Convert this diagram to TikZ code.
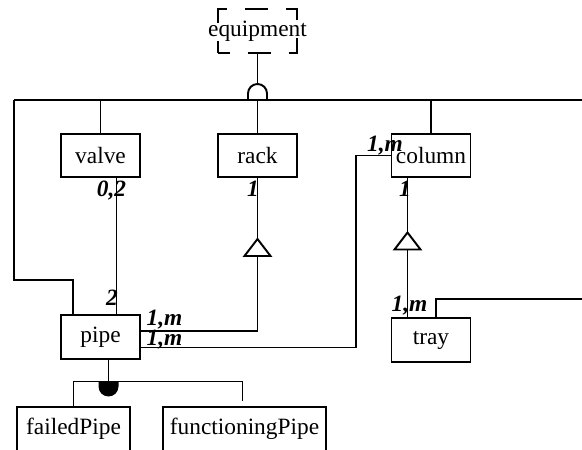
\documentclass[tikz,border=0pt]{standalone}
\usepackage{fontspec}
\setmainfont{Liberation Serif}

\begin{document}
\begin{tikzpicture}[line width=1.1pt,
  classbox/.style={draw, rectangle, inner sep=0pt, minimum width=1.58cm,
    minimum height=0.86cm, font=\fontsize{13.3}{15}\selectfont},
  mult/.style={anchor=base, inner sep=0pt,
    font=\fontsize{13.3}{15}\selectfont\bfseries\itshape}]

% Frame
\clip (0,0) rectangle (11.64,8.98);

% =========== Classes ===========
\node[draw, rectangle, inner sep=0pt, minimum width=1.58cm, minimum height=0.88cm,
      dash pattern=on 0.46cm off 0.36cm, dash phase=0.23cm]
  (equipment) at (5.15,8.36) {};
\node[font=\fontsize{13.3}{15}\selectfont] (equipmentText) at (equipment) {equipment};

\node[classbox] (valve) at (2.01,5.87) {valve};
\node[classbox] (rack) at (5.15,5.87) {rack};
\node[classbox] (column) at (8.62,5.87) {column};
\node[classbox, minimum height=0.88cm] (pipe) at (2.01,2.24) {pipe};
\node[classbox, minimum height=0.88cm] (tray) at (8.62,2.18) {tray};
\node[classbox, minimum width=2.26cm, minimum height=0.88cm] (failedPipe) at (1.47,0.40) {failedPipe};
\node[classbox, minimum width=3.26cm, minimum height=0.88cm] (functioningPipe) at (4.89,0.40) {functioningPipe};

% =========== Generalisation of equipment ===========
\coordinate (busL) at (0.28,6.98);
\coordinate (busR) at (11.64,6.98);
\coordinate (genTop) at (5.15,7.30);
\draw (busL) -- (busR);
\draw (equipment.south) -- (genTop);
\draw ([xshift=-0.19cm, yshift=-0.32cm]genTop) -- ++(0,0.13) arc (180:0:0.19) -- ++(0,-0.13);

\foreach \c in {valve, rack, column}
  \draw (\c.north) -- (\c.north |- busL);
\draw (busL) -- ++(0,-3.60) -| ([xshift=0.26cm]pipe.north west);

% =========== valve -- pipe ===========
\draw ([xshift=0.32cm]valve.south) -- ([xshift=0.32cm]pipe.north);
\node[mult] (valveMult) at (2.23,5.04) {0,2};
\node[mult] (pipeValveMult) at (2.24,2.86) {2};

% =========== rack -- pipe ===========
\coordinate (rackTip) at (5.15,4.20);
\draw (rack.south) -- (rackTip);
\draw (rackTip) -- ++(-0.26,-0.34) -- ++(0.52,0) -- cycle;
\draw ([yshift=-0.34cm]rackTip) |- ([yshift=0.12cm]pipe.east);
\node[mult] (rackMult) at (5.06,5.04) {1};
\node[mult] (pipeRackMult) at (3.29,2.46) {1,m};

% =========== column -- pipe ===========
\draw (column.west) -- ++(-0.70,0) |- ([yshift=-0.21cm]pipe.east);
\node[mult] (columnPipeMult) at (7.70,5.94) {1,m};
\node[mult] (pipeColumnMult) at (3.29,2.08) {1,m};

% =========== column -- tray ===========
\coordinate (colTip) at (8.15,4.33);
\coordinate (trayEnd) at (11.64,3.00);
\draw ([xshift=-0.47cm]column.south) -- (colTip);
\draw (colTip) -- ++(-0.26,-0.34) -- ++(0.52,0) -- cycle;
\draw ([yshift=-0.34cm]colTip) -- ([xshift=-0.47cm]tray.north);
\node[mult] (columnMult) at (8.10,5.04) {1};
\node[mult] (trayMult) at (8.19,2.74) {1,m};
\draw ([xshift=0.10cm]tray.north) |- (trayEnd);

% =========== Specialisation of pipe ===========
\coordinate (spec) at (2.17,1.35);
\draw (pipe.south -| spec) -- (spec);
\fill ([xshift=-0.20cm]spec) -- ++(0,-0.10) arc (180:360:0.20) -- ++(0,0.10) -- cycle;
\draw (failedPipe.north) |- (spec) -| ([xshift=-0.04cm, yshift=0.10cm]functioningPipe.north);

\end{tikzpicture}
\end{document}
